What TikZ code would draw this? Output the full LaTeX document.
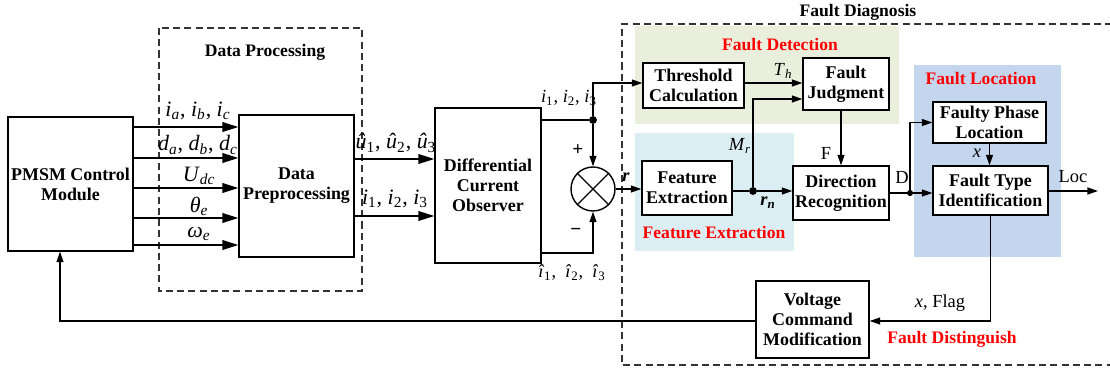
\documentclass[tikz,border=0pt]{standalone}
\usepackage{fontspec}
\setmainfont{Liberation Serif}
\usetikzlibrary{arrows.meta,calc}
\definecolor{detgreen}{HTML}{E9EFDC}
\definecolor{featblue}{HTML}{DBEEF4}
\definecolor{locblue}{HTML}{C4D6EE}
\definecolor{dashgray}{HTML}{333333}
\newcommand{\vi}[2]{\textit{#1}\textsubscript{\textit{#2}}}
\newcommand{\vn}[2]{\textit{#1}\textsubscript{#2}}
\begin{document}
\begin{tikzpicture}[x=0.02cm,y=-0.02cm,
  blk/.style={draw,line width=0.8pt,fill=white,align=center,font=\bfseries\fontsize{10.2}{11.5}\selectfont,inner sep=1pt},
  arr/.style={line width=0.7pt,-{Triangle[length=6pt,width=4pt]}},
  bigarr/.style={line width=0.7pt,-{Triangle[length=9pt,width=5.5pt]}},
  ln/.style={line width=0.7pt},
  grp/.style={draw=dashgray,line width=0.8pt,dash pattern=on 4pt off 2.4pt},
  title/.style={font=\bfseries\fontsize{10}{12}\selectfont},
  redlab/.style={font=\bfseries\fontsize{10}{12}\selectfont,text=red},
  biglab/.style={font=\fontsize{12.5}{14}\selectfont,inner sep=0pt},
  smlab/.style={font=\fontsize{10.5}{12}\selectfont,inner sep=0pt},
  dot/.style={circle,fill=black,inner sep=0pt,minimum size=4.5pt}
]
\useasboundingbox (0,0) rectangle (1110,371);
% background regions
\fill[detgreen] (635,26) rectangle (899,124);
\fill[featblue] (635,133) rectangle (794,251);
\fill[locblue] (914,65) rectangle (1061,257);
% dashed groups
\draw[grp] (159,28) rectangle (362,291);
\draw[grp] (1112,24) -- (622,24) -- (622,365) -- (1112,365);
\node[title] (tdp) at (265,52) {Data Processing};
\node[title] (tfd) at (858,12) {Fault Diagnosis};
\node[redlab] (rdet) at (780,45) {Fault Detection};
\node[redlab] (rfeat) at (714,233) {Feature Extraction};
\node[redlab] (rloc) at (981,79) {Fault Location};
\node[redlab] (rdis) at (952,339) {Fault Distinguish};
% blocks
\node[blk,minimum width=2.5cm,minimum height=2.68cm] (pmsm) at (70.5,184) {PMSM Control\\Module};
\node[blk,minimum width=2.3cm,minimum height=2.84cm] (dpp) at (296.5,186) {Data\\Preprocessing};
\node[blk,minimum width=2.12cm,minimum height=3.1cm] (dco) at (488,185.5) {Differential\\Current\\Observer};
\node[blk,minimum width=2.02cm,minimum height=0.9cm] (tc) at (693.5,85.5) {Threshold\\Calculation};
\node[blk,minimum width=1.72cm,minimum height=1.04cm] (fj) at (846,84) {Fault\\Judgment};
\node[blk,minimum width=1.8cm,minimum height=1.08cm] (fe) at (687,188) {Feature\\Extraction};
\node[blk,minimum width=1.92cm,minimum height=1.08cm] (dr) at (841,193) {Direction\\Recognition};
\node[blk,minimum width=2.26cm,minimum height=0.82cm] (fpl) at (989.5,122.5) {Faulty Phase\\Location};
\node[blk,minimum width=2.3cm,minimum height=0.98cm] (fti) at (990.5,190.5) {Fault Type\\Identification};
\node[blk,minimum width=2.26cm,minimum height=1.54cm] (vcm) at (812.5,319.5) {Voltage\\Command\\Modification};
\node[draw,circle,line width=0.8pt,minimum size=0.88cm,inner sep=0pt] (sum) at (593,189) {};
\draw[line width=0.7pt] (sum.north west) -- (sum.south east) (sum.north east) -- (sum.south west);
% PMSM -> data preprocessing
\foreach \yy in {127,158,188,218,245}
  \draw[bigarr] (pmsm.east |- 0,\yy) -- (dpp.west |- 0,\yy);
\node[biglab] (l1) at (198,111) {\vi{i}{a}, \vi{i}{b}, \vi{i}{c}};
\node[biglab] (l2) at (198,145) {\vi{d}{a}, \vi{d}{b}, \vi{d}{c}};
\node[biglab] (l3) at (199,176) {\vi{U}{dc}};
\node[biglab] (l4) at (199,206) {\vi{θ}{e}};
\node[biglab] (l5) at (199,234) {\vi{ω}{e}};
% preprocessing -> observer
\draw[bigarr] (dpp.east |- 0,159) -- (dco.west |- 0,159);
\draw[bigarr] (dpp.east |- 0,216) -- (dco.west |- 0,216);
\node[biglab] (l6) at (396,143) {\vn{û}{1}, \vn{û}{2}, \vn{û}{3}};
\node[biglab] (l7) at (395,199) {\vn{i}{1}, \vn{i}{2}, \vn{i}{3}};
% observer -> sum
\node[dot] (j1) at (593,120) {};
\draw[ln] (dco.east |- j1) -- (j1);
\draw[arr] (j1) -- (sum.north);
\draw[arr] (j1) |- (tc.west |- 0,83);
\draw[arr] (dco.east |- 0,253) -| (sum.south);
\node[smlab] (l8) at (569,98) {\vn{i}{1}, \vn{i}{2}, \vn{i}{3}};
\node[smlab] (l9) at (572,273) {\vn{\^{\i}}{1}, \ \vn{\^{\i}}{2}, \ \vn{\^{\i}}{3}};
\node[font=\bfseries\fontsize{11}{12}\selectfont] (lp) at (578,150) {+};
\node[font=\bfseries\fontsize{11}{12}\selectfont] (lm) at (576,232) {−};
% sum -> feature extraction
\draw[arr] (sum.east) -- (fe.west |- sum.east);
\node[smlab,font=\bfseries\itshape\fontsize{10.5}{12}\selectfont] (lr) at (626,177) {r};
% feature extraction -> direction recognition
\node[dot] (j2) at (753,191) {};
\draw[ln] (fe.east |- j2) -- (j2);
\draw[arr] (j2) -- (dr.west |- j2);
\draw[arr] (j2) |- (fj.west |- 0,99);
\node[smlab] (lmr) at (740,146) {\vi{M}{r}};
\node[smlab,font=\bfseries\itshape\fontsize{10.5}{12}\selectfont] (lrn) at (768,203) {r\textsubscript{n}};
% threshold -> fault judgment
\draw[arr] (tc.east |- 0,83) -- (fj.west |- 0,83);
\node[smlab] (lth) at (783,71) {\vi{T}{h}};
% fault judgment -> direction recognition
\draw[arr] (fj.south -| dr.north) -- (dr.north);
\node[smlab] (lf) at (826,153) {F};
% direction recognition -> location
\node[dot,minimum size=3.5pt] (j3) at (910,193) {};
\draw[ln] (dr.east |- j3) -- (j3);
\draw[arr] (j3) -- (fti.west |- j3);
\draw[arr] (j3) |- (fpl.west);
\node[smlab] (ld) at (902,177) {D};
\draw[arr] (fpl.south) -- (fti.north -| fpl.south);
\node[smlab] (lx) at (977,153) {\textit{x}};
\coordinate (loc) at (1098,191);
\draw[arr] (fti.east |- loc) -- (loc);
\node[smlab] (lloc) at (1073,177) {Loc};
% fault type -> voltage command
\draw[arr] (fti.south) |- (vcm.east |- 0,321);
\node[smlab] (lflag) at (940,303) {\textit{x}, Flag};
% voltage command -> PMSM
\draw[arr] (vcm.west |- 0,321) -| (pmsm.south -| 60,0);
\end{tikzpicture}
\end{document}
